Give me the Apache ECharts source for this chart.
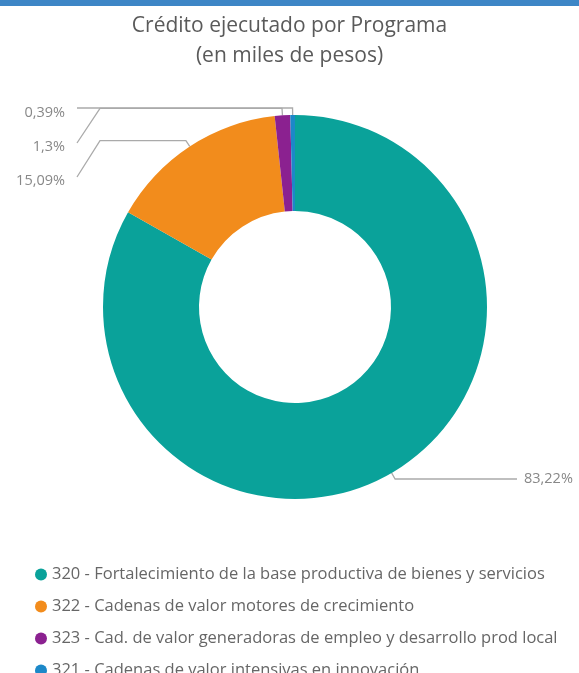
<!DOCTYPE html>
<html>
<head>
<meta charset="utf-8">
<script src="https://cdn.jsdelivr.net/npm/echarts@6/dist/echarts.min.js"></script>
<style>
html,body{margin:0;padding:0;background:#fff;}
#chart{width:579px;height:673px;}
</style>
</head>
<body>
<div id="chart"></div>
<script>
const titleLines = ['Crédito ejecutado por Programa', '(en miles de pesos)'];
const categories = [
  '320 - Fortalecimiento de la base productiva de bienes y servicios',
  '322 - Cadenas de valor motores de crecimiento',
  '323 - Cad. de valor generadoras de empleo y desarrollo prod local',
  '321 - Cadenas de valor intensivas en innovación'
];
const shares = [83.22, 15.09, 1.3, 0.39];
const colors = ['#0aa29a', '#f28c1c', '#8b2190', '#1c88c8'];

const chart = echarts.init(document.getElementById('chart'));
const CX = 295, CY = 307, R0 = 96, R1 = 192, RADIAL = 7;
const total = shares.reduce((a, b) => a + b, 0);
function midAngle(i) {
  let before = 0;
  for (let k = 0; k < i; k++) before += shares[k];
  return ((before + shares[i] / 2) / total) * 2 * Math.PI;
}
// order left labels from top
const leftOrder = shares.map((v, i) => i).filter(i => Math.sin(midAngle(i)) < 0)
  .sort((a, b) => midAngle(b) - midAngle(a));

chart.setOption({
  animation: false,
  title: {
    text: titleLines.join('\n'),
    left: 'center',
    top: 6,
    padding: 5,
    textStyle: {
      fontFamily: 'Open Sans',
      fontSize: 21,
      fontWeight: 'normal',
      color: '#5a5a5a',
      lineHeight: 30
    }
  },
  graphic: [{
    type: 'rect', left: 0, top: 0,
    shape: { width: 579, height: 6 },
    style: { fill: '#3d86c6' }
  }],
  legend: {
    orient: 'vertical',
    left: 35,
    top: 566,
    height: 140,
    padding: 0,
    icon: 'circle',
    itemWidth: 12,
    itemHeight: 12,
    itemGap: 15,
    textStyle: { fontFamily: 'Open Sans', fontSize: 16.5, color: '#666', lineHeight: 14 },
    data: categories
  },
  series: [{
    type: 'pie',
    center: [CX, CY],
    radius: [R0, R1],
    startAngle: 90,
    clockwise: true,
    color: colors,
    avoidLabelOverlap: false,
    label: {
      show: true,
      position: 'outside',
      formatter: p => p.value.toFixed(2).replace(/0$/, '').replace('.', ',') + '%',
      fontFamily: 'Open Sans',
      fontSize: 14.5,
      color: '#888'
    },
    labelLine: {
      show: true, length: RADIAL, length2: 20,
      lineStyle: { color: '#aaa', width: 1.3 }
    },
    labelLayout: function (params) {
      const i = params.dataIndex;
      const a = midAngle(i);
      const dx = Math.sin(a), dy = -Math.cos(a);
      const p0 = [CX + dx * R1, CY + dy * R1];
      const p1 = [CX + dx * (R1 + RADIAL), CY + dy * (R1 + RADIAL)];
      if (dx >= 0) {
        return {
          x: 524, y: p1[1], align: 'left', verticalAlign: 'middle',
          labelLinePoints: [p0, p1, [517, p1[1]]]
        };
      }
      const order = leftOrder.indexOf(i);
      const topLineY = CY - R1 - RADIAL;
      const ly = topLineY + 5 + order * 34;
      return {
        x: 65, y: ly, align: 'right', verticalAlign: 'middle',
        labelLinePoints: [p0, p1, [100, p1[1]], [77, order === 0 ? p1[1] : ly - 4]]
      };
    },
    data: categories.map((c, i) => ({ name: c, value: shares[i] }))
  }]
});
</script>
</body>
</html>
